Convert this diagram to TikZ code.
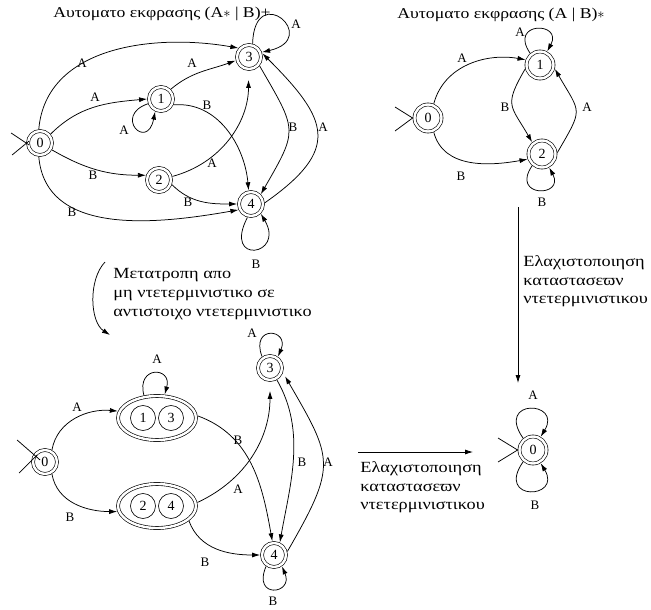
\documentclass[tikz,border=0pt]{standalone}
\usepackage{fontspec}
\setmainfont{Liberation Serif}
\newfontfamily\widegreek[FakeStretch=1.18]{Liberation Serif}
\usetikzlibrary{arrows.meta,shapes.geometric,calc}
\begin{document}
\begin{tikzpicture}[x=1pt,y=1pt,line width=0.75pt,
  every node/.style={inner sep=0pt},
  st/.style={circle,draw,line width=0.65pt,double,double distance=2.4pt,minimum size=24pt,outer sep=1.9pt,font=\fontsize{14}{14}\selectfont},
  stb/.style={st,minimum size=27pt},
  sub/.style={circle,draw,line width=0.65pt,minimum size=25pt,font=\fontsize{14}{14}\selectfont},
  grp/.style={ellipse,draw,line width=0.65pt,double,double distance=2.4pt,minimum width=78pt,minimum height=44pt,outer sep=1.9pt},
  edge/.style={-{Latex[length=8pt,width=5pt]}},
  lab/.style={font=\fontsize{13}{13}\selectfont},
  ttl/.style={font=\widegreek\fontsize{15}{15}\selectfont},
  note/.style={align=left,anchor=north west,font=\widegreek\fontsize{15.5}{18.8}\selectfont}]
\useasboundingbox (0,0) rectangle (651,-610);
\fill[white] (0,0) rectangle (651,-610);

% ---------- automaton for (A* | B)+ ----------
\node[ttl] (g1t) at (162,-14) {Αυτοματο εκφρασης (A$\ast$ | B)+};
\node[st] (g1n0) at (40,-143) {0};
\node[st] (g1n1) at (161,-99) {1};
\node[st] (g1n2) at (159,-180) {2};
\node[st] (g1n3) at (249,-57) {3};
\node[st] (g1n4) at (251,-204) {4};
\coordinate (g1i1) at ($(g1n0.west)+(-15,10)$);
\coordinate (g1i2) at ($(g1n0.west)+(-14,-12)$);
\draw (g1i1) -- ($(g1n0.west)+(3,-2)$);
\draw (g1i2) -- ($(g1n0.west)+(3,2)$);
\draw[edge] (g1n0.95) to[out=85,in=170] (g1n3.140);
\draw[edge] (g1n0.40) to[out=45,in=185] (g1n1.180);
\draw[edge] (g1n1.200) .. controls +(-35,-12) and +(-8,-40) .. (g1n1.245);
\draw[edge] (g1n1.45) to[out=40,in=200] (g1n3.195);
\draw[edge] (g1n1.-25) to[out=5,in=95] (g1n4.100);
\draw[edge] (g1n0.-30) to[out=-30,in=180] (g1n2.160);
\draw[edge,shorten >=9pt] (g1n2.15) to[out=15,in=270] (g1n3.268);
\draw[edge] (g1n2.-20) to[out=-45,in=180] (g1n4.180);
\draw[edge] (g1n0.-95) to[out=-85,in=190] (g1n4.205);
\draw[edge] (g1n3.-40) to[out=-60,in=60,looseness=1.5] (g1n4.45);
\draw[edge] (g1n4.5) to[out=35,in=-45,looseness=1.6] (g1n3.15);
\draw[edge] (g1n3.75) .. controls +(2,64) and +(60,14) .. (g1n3.20);
\draw[edge] (g1n4.255) .. controls +(-25,-48) and +(25,-42) .. (g1n4.-45);
\node[lab] (g1l1) at (82,-63) {A};
\node[lab] (g1l2) at (95,-97) {A};
\node[lab] (g1l3) at (124,-130) {A};
\node[lab] (g1l4) at (192,-63) {A};
\node[lab] (g1l5) at (207,-105) {B};
\node[lab] (g1l6) at (93,-175) {B};
\node[lab] (g1l7) at (212,-163) {A};
\node[lab] (g1l8) at (188,-202) {B};
\node[lab] (g1l9) at (72,-212) {B};
\node[lab] (g1l10) at (293,-127) {B};
\node[lab] (g1l11) at (323,-127) {A};
\node[lab] (g1l12) at (296,-24) {A};
\node[lab] (g1l13) at (256,-264) {B};

% ---------- automaton for (A | B)* ----------
\node[ttl] (g2t) at (501,-15) {Αυτοματο εκφρασης (A | B)$\ast$};
\node[stb] (g2n0) at (428,-118) {0};
\node[stb] (g2n1) at (540,-65) {1};
\node[stb] (g2n2) at (542,-154) {2};
\coordinate (g2i1) at (395,-107);
\coordinate (g2i2) at (395,-131);
\draw (g2i1) -- (g2n0.west);
\draw (g2i2) -- (g2n0.west);
\draw[edge] (g2n0.68) to[out=75,in=170] (g2n1.160);
\draw[edge] (g2n0.-68) to[out=-75,in=190] (g2n2.200);
\draw[edge] (g2n1.195) to[out=240,in=120,looseness=1.5] (g2n2.130);
\draw[edge] (g2n2.5) to[out=60,in=-60,looseness=1.6] (g2n1.-15);
\draw[edge] (g2n1.130) .. controls +(-22,32) and +(16,30) .. (g2n1.62);
\draw[edge] (g2n2.230) .. controls +(-22,-32) and +(16,-30) .. (g2n2.-62);
\node[lab] (g2l1) at (462,-58) {A};
\node[lab] (g2l2) at (461,-176) {B};
\node[lab] (g2l3) at (505,-107) {B};
\node[lab] (g2l4) at (587,-107) {A};
\node[lab] (g2l5) at (520,-32) {A};
\node[lab] (g2l6) at (542,-202) {B};

% ---------- minimisation (vertical) ----------
\coordinate (v1) at (518,-207);
\coordinate (v2) at (518,-383);
\draw[edge] (v1) -- (v2);
\node[note] (vt) at (523,-255) {Ελαχιστοποιηση\\καταστασεϖν\\ντετερμινιστικου};

% ---------- minimal automaton ----------
\node[stb] (g4n0) at (533,-450) {0};
\coordinate (g4i1) at (498,-438);
\coordinate (g4i2) at (498,-462);
\draw (g4i1) -- (g4n0.west);
\draw (g4i2) -- (g4n0.west);
\draw[edge] (g4n0.130) .. controls +(-28,40) and +(22,36) .. (g4n0.60);
\draw[edge] (g4n0.230) .. controls +(-28,-40) and +(22,-36) .. (g4n0.-60);
\node[lab] (g4l1) at (533,-395) {A};
\node[lab] (g4l2) at (535,-505) {B};

% ---------- minimisation (horizontal) ----------
\coordinate (h1) at (358,-452);
\coordinate (h2) at (473,-452);
\draw[edge] (h1) -- (h2);
\node[note] (ht) at (360,-461) {Ελαχιστοποιηση\\καταστασεϖν\\ντετερμινιστικου};

% ---------- conversion to deterministic ----------
\coordinate (m1) at (105,-262);
\coordinate (m2) at (110,-335);
\draw[edge] (m1) .. controls (88,-280) and (90,-322) .. (m2);
\node[note] (mt) at (113,-268) {Μετατροπη απο\\μη ντετερμινιστικο σε\\αντιστοιχο ντετερμινιστικο};

\node[st] (g3n0) at (45,-462) {0};
\node[grp] (g3a) at (157,-418) {};
\node[sub] (g3a1) at (143,-418) {1};
\node[sub] (g3a3) at (171,-418) {3};
\node[grp] (g3b) at (157,-506) {};
\node[sub] (g3b2) at (143,-506) {2};
\node[sub] (g3b4) at (171,-506) {4};
\node[st] (g3n3) at (270,-368) {3};
\node[st] (g3n4) at (274,-555) {4};
\coordinate (g3i1) at ($(g3n0.west)+(-14,22)$);
\coordinate (g3i2) at ($(g3n0.west)+(-12,-11)$);
\draw (g3i1) -- ($(g3n0.west)+(9,2)$);
\draw (g3i2) -- ($(g3n0.west)+(6,7)$);
\draw[edge] (g3n0.60) to[out=80,in=175] (g3a.170);
\draw[edge] (g3n0.-60) to[out=-80,in=180] (g3b.188);
\draw[edge] (g3a.120) .. controls +(-8,30) and +(8,28) .. (g3a.72);
\draw[edge] (g3a.3) to[out=-20,in=100] (g3n4.97);
\draw[edge,shorten >=9pt] (g3b.5) to[out=25,in=270] (g3n3.270);
\draw[edge] (g3b.-25) to[out=-70,in=180] (g3n4.180);
\draw[edge] (g3n3.-60) to[out=-60,in=80,looseness=0.93] (g3n4.65);
\draw[edge,shorten >=4pt] (g3n4.15) to[out=60,in=-60,looseness=1.43] (g3n3.-20);
\draw[edge] (g3n3.125) .. controls +(-12,32) and +(12,28) .. (g3n3.55);
\draw[edge] (g3n4.235) .. controls +(-14,-33) and +(12,-28) .. (g3n4.-55);
\node[lab] (g3l1) at (77,-407) {A};
\node[lab] (g3l2) at (70,-517) {B};
\node[lab] (g3l3) at (157,-359) {A};
\node[lab] (g3l4) at (238,-440) {B};
\node[lab] (g3l5) at (238,-489) {A};
\node[lab] (g3l6) at (205,-562) {B};
\node[lab] (g3l7) at (302,-462) {B};
\node[lab] (g3l8) at (328,-462) {A};
\node[lab] (g3l9) at (252,-333) {A};
\node[lab] (g3l10) at (273,-601) {B};
\end{tikzpicture}
\end{document}
